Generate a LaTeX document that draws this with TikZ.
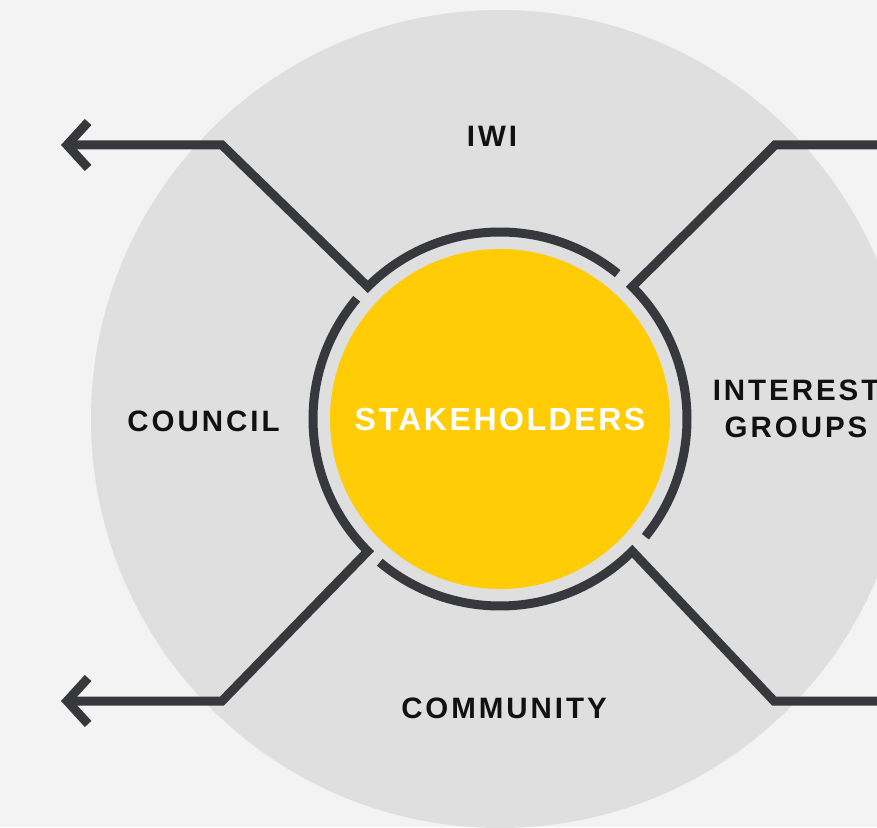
\documentclass[tikz,border=0pt]{standalone}
\usepackage{fontspec}
\setmainfont{Liberation Sans}
\newfontfamily\labelfont[LetterSpace=10]{Liberation Sans}
\newfontfamily\hubfont[LetterSpace=8]{Liberation Sans}
\usetikzlibrary{arrows.meta}

\definecolor{bgGrey}{HTML}{F3F3F3}
\definecolor{discGrey}{HTML}{DFDFDF}
\definecolor{darkLine}{HTML}{37383C}
\definecolor{hubYellow}{HTML}{FFCC05}
\definecolor{labelBlack}{HTML}{111111}

\tikzset{
  wire/.style={draw=darkLine, line width=9pt, line join=miter},
  wirearrow/.style={wire, -{Straight Barb[sharp, length=21pt, width=46pt]}},
  sector/.style={font={\labelfont\bfseries\fontsize{29.5}{37.5}\selectfont}, text=labelBlack, align=center},
  hub/.style={circle, fill=hubYellow, minimum size=340pt, inner sep=0pt, text=white,
    font={\hubfont\bfseries\fontsize{32}{38}\selectfont}}
}

\begin{document}
\begin{tikzpicture}[x=1pt, y=1pt]
  \useasboundingbox (0,0) rectangle (877,827);
  \fill[bgGrey] (0,0) rectangle (877,827);
  \clip (0,0) rectangle (877,827);

  % grosse Scheibe
  \coordinate (c) at (500,408);
  \fill[discGrey] (c) circle[radius=409];

  % Mitte
  \node[hub] (hub) at (c) {STAKEHOLDERS};

  % Knicke und Enden
  \coordinate (ulBend) at (222,682);
  \coordinate (ulTip) at (61,682);
  \coordinate (llBend) at (222,126);
  \coordinate (llTip) at (61,126);
  \coordinate (urBend) at (775,682);
  \coordinate (urEnd) at (895,682);
  \coordinate (lrBend) at (774,126);
  \coordinate (lrEnd) at (895,126);

  % Ring mit Verbindungen
  \draw[wirearrow] ([shift={(51:187)}]c) arc[start angle=51, end angle=135, radius=187] -- (ulBend) -- (ulTip);
  \draw[wire] (urEnd) -- (urBend) -- ([shift={(45:187)}]c) arc[start angle=45, end angle=-39, radius=187];
  \draw[wire] (lrEnd) -- (lrBend) -- ([shift={(-45:187)}]c) arc[start angle=-45, end angle=-130, radius=187];
  \draw[wirearrow] ([shift={(140:187)}]c) arc[start angle=140, end angle=225, radius=187] -- (llBend) -- (llTip);

  % Beschriftungen
  \node[sector] (iwi) at (492,691) {IWI};
  \node[sector] (council) at (203.5,406) {COUNCIL};
  \node[sector] (community) at (504,119) {COMMUNITY};
  \node[sector] (groups) at (796,418) {INTEREST\\GROUPS};
\end{tikzpicture}
\end{document}
